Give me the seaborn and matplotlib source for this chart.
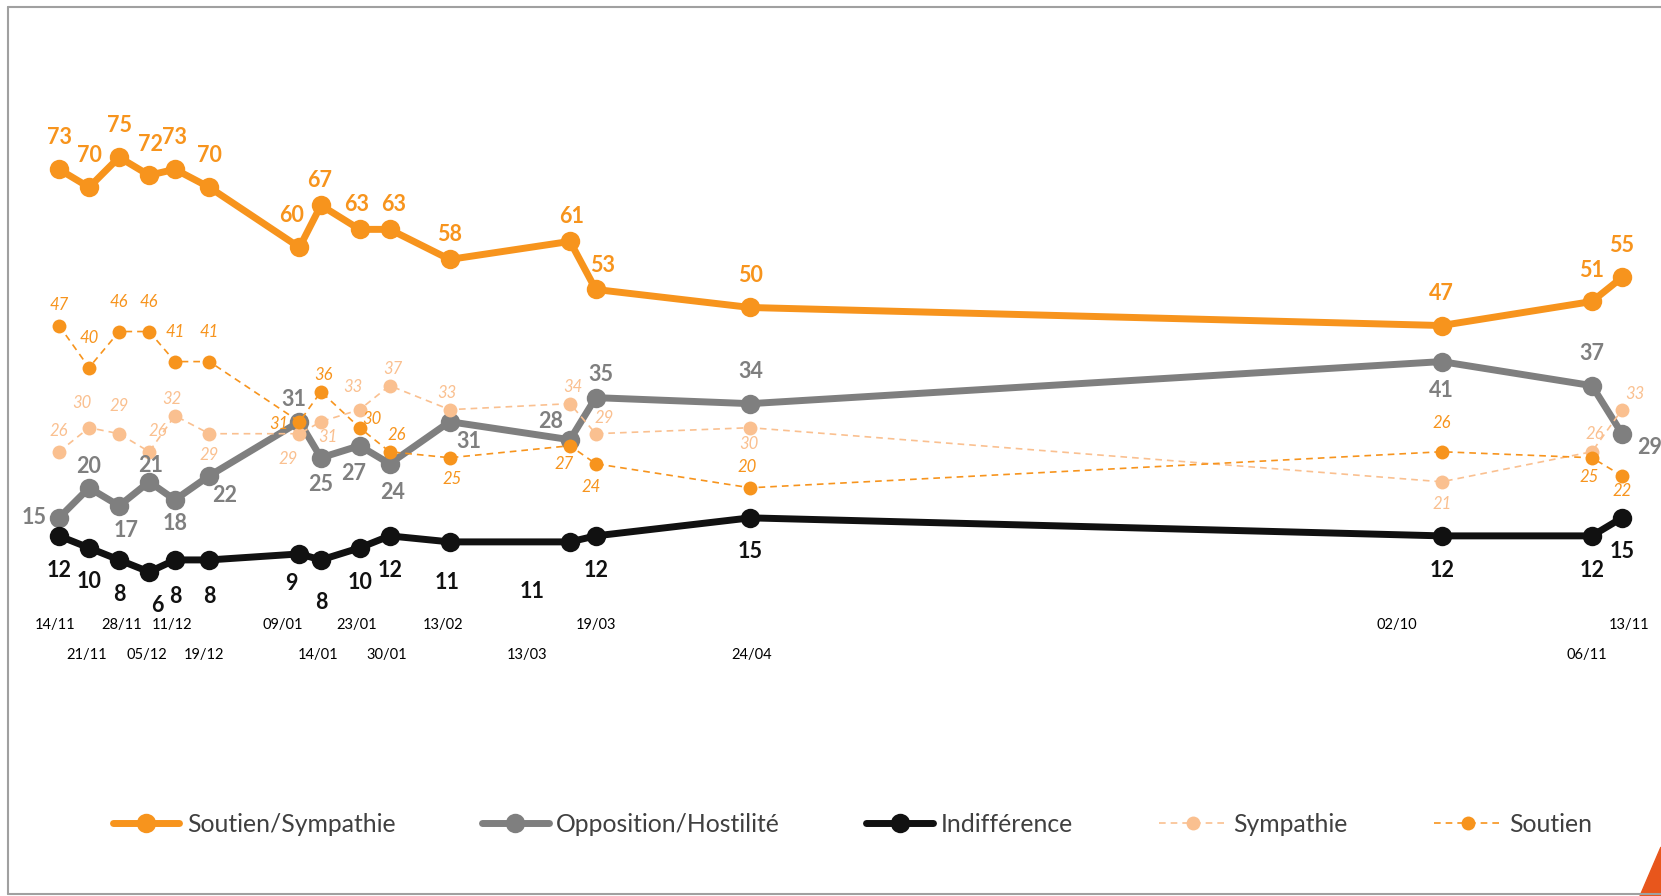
import pandas as pd
import matplotlib.pyplot as plt
import matplotlib.patches as mpatches
from matplotlib.lines import Line2D
import seaborn as sns

# Données (vagues d'enquête)
dates = ['14/11/2018', '21/11/2018', '28/11/2018', '05/12/2018', '11/12/2018', '19/12/2018',
         '09/01/2019', '14/01/2019', '23/01/2019', '30/01/2019', '13/02/2019', '13/03/2019',
         '19/03/2019', '24/04/2019', '02/10/2019', '06/11/2019', '13/11/2019']
date_labels = ['14/11', '21/11', '28/11', '05/12', '11/12', '19/12', '09/01', '14/01', '23/01',
               '30/01', '13/02', '13/03', '19/03', '24/04', '02/10', '06/11', '13/11']
soutien_sympathie = [73, 70, 75, 72, 73, 70, 60, 67, 63, 63, 58, 61, 53, 50, 47, 51, 55]
opposition_hostilite = [15, 20, 17, 21, 18, 22, 31, 25, 27, 24, 31, 28, 35, 34, 41, 37, 29]
indifference = [12, 10, 8, 6, 8, 8, 9, 8, 10, 12, 11, 11, 12, 15, 12, 12, 15]
sympathie = [26, 30, 29, 26, 32, 29, 29, 31, 33, 37, 33, 34, 29, 30, 21, 26, 33]
soutien = [47, 40, 46, 46, 41, 41, 31, 36, 30, 26, 25, 27, 24, 20, 26, 25, 22]

# décalages des étiquettes (points)
off_ss = [(0, 23), (0, 23), (0, 23), (1, 22), (0, 23), (0, 23), (-6, 23), (-1, 18), (-2, 18),
          (3, 18), (0, 18), (1, 18), (5, 17), (0, 23), (0, 23), (0, 22), (0, 23)]
off_op = [(-18, 0), (0, 15), (5, -18), (1, 12), (0, -17), (11, -14), (-4, 16), (0, -19), (-4, -20),
          (2, -21), (14, -14), (-14, 13), (4, 17), (0, 23), (0, -21), (0, 23), (20, -10)]
off_in = [(0, -25), (0, -24), (0, -25), (6, -24), (0, -26), (0, -26), (-6, -21), (0, -31), (0, -25),
          (0, -25), (-2, -29), (-27, -36), (0, -25), (0, -24), (0, -25), (0, -25), (0, -24)]
off_sy = [(0, 15), (-5, 18), (0, 20), (6, 15), (-2, 12), (0, -15), (-8, -18), (5, -11), (-5, 16),
          (2, 12), (-2, 12), (2, 12), (6, 11), (-1, -12), (0, -16), (2, 13), (9, 11)]
off_so = [(0, 15), (0, 21), (0, 21), (0, 21), (0, 21), (0, 21), (-15, -2), (2, 12), (9, 6),
          (5, 12), (2, -15), (-4, -13), (-3, -17), (-2, 15), (0, 21), (-2, -14), (0, -11)]
row2 = {'21/11', '05/12', '19/12', '14/01', '30/01', '13/03', '24/04', '06/11'}
date_dx = [-3, -2, 2, -2, -2, -4, -12, -2, -2, -2, -5, -31, 0, 1, -32, -4, 5]

ORANGE = '#F7941D'
GREY = '#7F7F7F'
BLACK = '#111111'
PEACH = '#FAC090'

df = pd.DataFrame({
    'date': pd.to_datetime(dates, format='%d/%m/%Y'),
    'Soutien/Sympathie': soutien_sympathie,
    'Opposition/Hostilité': opposition_hostilite,
    'Indifférence': indifference,
    'Sympathie': sympathie,
    'Soutien': soutien,
})

sns.set_style('white')
plt.rcParams['font.family'] = ['Lato', 'DejaVu Sans']

fig = plt.figure(figsize=(16.61, 8.96), dpi=100)
ax = fig.add_axes([0, 0, 1, 1])

main_series = [('Soutien/Sympathie', ORANGE), ('Opposition/Hostilité', GREY), ('Indifférence', BLACK)]
for name, col in main_series:
    sns.lineplot(data=df, x='date', y=name, ax=ax, color=col, linewidth=5, marker='o',
                 markersize=14, markeredgewidth=0, zorder=2)
for name, col in [('Sympathie', PEACH), ('Soutien', ORANGE)]:
    sns.lineplot(data=df, x='date', y=name, ax=ax, color=col, linewidth=1.2, linestyle=(0, (4, 3)),
                 marker='o', markersize=10, markeredgewidth=0, zorder=3)

# étiquettes de valeurs
def label(col_name, offs, color, bold=True):
    for d, v, (dx, dy) in zip(df['date'], df[col_name], offs):
        ax.annotate(str(v), (d, v), xytext=(dx, dy), textcoords='offset points',
                    ha='center', va='center', color=color,
                    fontsize=15.5 if bold else 12,
                    fontweight='bold' if bold else 'normal',
                    fontstyle='normal' if bold else 'italic', zorder=5)

label('Soutien/Sympathie', off_ss, ORANGE)
label('Opposition/Hostilité', off_op, GREY)
label('Indifférence', off_in, BLACK)
label('Sympathie', off_sy, PEACH, bold=False)
label('Soutien', off_so, ORANGE, bold=False)

# dates sous le graphique
for d, lab, dx in zip(df['date'], date_labels, date_dx):
    y = -7.8 if lab in row2 else -2.8
    ax.annotate(lab, (d, y), xytext=(dx, 0), textcoords='offset points',
                ha='center', va='center', fontsize=10.5, color='black')

# échelle : position en pixels proportionnelle au temps
start = df['date'].iloc[0]
px_day = 1563 / 364
ax.set_xlim(start - pd.Timedelta(days=59 / px_day), start + pd.Timedelta(days=(1661 - 59) / px_day))
ax.set_ylim(-(896 - 608) / 6.01, 608 / 6.01)
ax.set_axis_off()

# légende
handles = [
    Line2D([], [], color=ORANGE, lw=5, marker='o', markersize=14, markeredgewidth=0),
    Line2D([], [], color=GREY, lw=5, marker='o', markersize=14, markeredgewidth=0),
    Line2D([], [], color=BLACK, lw=5, marker='o', markersize=14, markeredgewidth=0),
    Line2D([], [], color=PEACH, lw=1.2, ls=(0, (4, 3)), marker='o', markersize=10, markeredgewidth=0),
    Line2D([], [], color=ORANGE, lw=1.2, ls=(0, (4, 3)), marker='o', markersize=10, markeredgewidth=0),
]
names = ['Soutien/Sympathie', 'Opposition/Hostilité', 'Indifférence', 'Sympathie', 'Soutien']
fig.legend(handles, names, loc='center', bbox_to_anchor=(0.513, 0.08), ncol=5, frameon=False,
           fontsize=17.8, handlelength=2.7, handletextpad=0.3, columnspacing=3.5,
           labelcolor='#404040')

# cadre et coin orange
fig.add_artist(Line2D([8 / 1661, 8 / 1661], [1 - 7 / 896, 1 - 894 / 896], color='#A0A0A0', lw=1.5))
fig.add_artist(Line2D([8 / 1661, 1], [1 - 7 / 896, 1 - 7 / 896], color='#A0A0A0', lw=1.5))
fig.add_artist(Line2D([8 / 1661, 1], [1 - 894 / 896, 1 - 894 / 896], color='#A0A0A0', lw=1.5))
fig.add_artist(mpatches.Polygon([(1640 / 1661, 0), (1, 49 / 896), (1, 0)],
                                closed=True, color='#E8561C', transform=fig.transFigure))

fig.savefig('out.png', dpi=100)
